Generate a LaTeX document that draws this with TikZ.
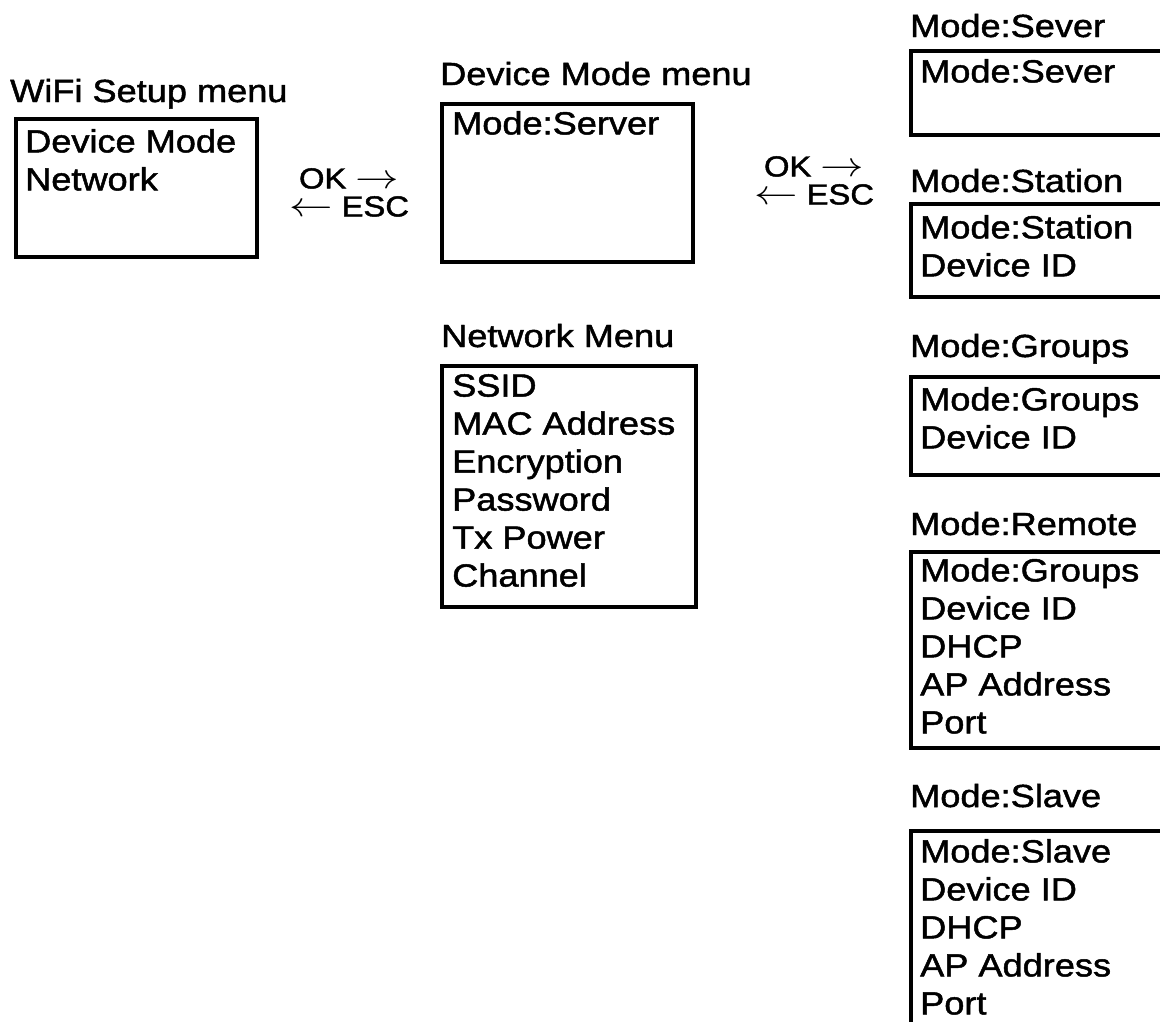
\documentclass[tikz,border=0pt]{standalone}
\usepackage{fix-cm}
\usepackage{fontspec}
\setmainfont{Liberation Sans}[FakeStretch=1.13, FakeBold=1.5]
\usetikzlibrary{positioning}
\newcommand{\menufont}{\fontsize{32}{38}\selectfont}
\newcommand{\keyfont}{\fontsize{29}{28}\selectfont}
\newcommand{\keyright}{\scalebox{1.5}[1.2]{$\rightarrow$}}
\newcommand{\keyleft}{\scalebox{1.5}[1.2]{$\leftarrow$}}
\tikzset{
  menubox/.style={draw, line width=3.5pt, anchor=north west, inner sep=0pt},
  menutitle/.style={anchor=base west, inner sep=0pt, font=\menufont},
  menuitems/.style={inner sep=0pt, align=left, font=\menufont},
  keylabel/.style={anchor=north, inner sep=0pt, align=center, font=\keyfont}
}
\begin{document}
\begin{tikzpicture}[x=1pt,y=-1pt]
\useasboundingbox (0,0) rectangle (1160,1021);
\clip (0,0) rectangle (1160,1021);
%%First the menu boxes
\node (wifi) [menubox, minimum width=241pt, minimum height=138pt] at (14,117) {};
\node (devmode) [menubox, minimum width=251pt, minimum height=158pt] at (440,102) {};
\node (network) [menubox, minimum width=254pt, minimum height=241pt] at (440,364) {};
\node (sever) [menubox, minimum width=300pt, minimum height=84pt] at (909,49) {};
\node (station) [menubox, minimum width=300pt, minimum height=93pt] at (909,202) {};
\node (groups) [menubox, minimum width=300pt, minimum height=98pt] at (909,375) {};
\node (remote) [menubox, minimum width=300pt, minimum height=196pt] at (909,550) {};
\node (slave) [menubox, minimum width=300pt, minimum height=250pt] at (909,829) {};
%%Then the titles
\node (wifi-t) [menutitle] at (10,102) {WiFi Setup menu};
\node (devmode-t) [menutitle] at (440,85) {Device Mode menu};
\node (network-t) [menutitle] at (441,347) {Network Menu};
\node (sever-t) [menutitle] at (910,37) {Mode:Sever};
\node (station-t) [menutitle] at (910,192) {Mode:Station};
\node (groups-t) [menutitle] at (910,357) {Mode:Groups};
\node (remote-t) [menutitle] at (910,535) {Mode:Remote};
\node (slave-t) [menutitle] at (910,807) {Mode:Slave};
%%The menu entries
\node (wifi-c) [menuitems, below right=12pt and 11pt of wifi.north west] {Device Mode\\Network};
\node (devmode-c) [menuitems, below right=9pt and 12pt of devmode.north west] {Mode:Server};
\node (network-c) [menuitems, below right=10pt and 12pt of network.north west]
  {SSID\\MAC Address\\Encryption\\Password\\Tx Power\\Channel};
\node (sever-c) [menuitems, below right=10pt and 11pt of sever.north west] {Mode:Sever};
\node (station-c) [menuitems, below right=13pt and 11pt of station.north west] {Mode:Station\\Device ID};
\node (groups-c) [menuitems, below right=12pt and 11pt of groups.north west] {Mode:Groups\\Device ID};
\node (remote-c) [menuitems, below right=8pt and 11pt of remote.north west]
  {Mode:Groups\\Device ID\\DHCP\\AP Address\\Port};
\node (slave-c) [menuitems, below right=10pt and 11pt of slave.north west]
  {Mode:Slave\\Device ID\\DHCP\\AP Address\\Port};
%%The key labels between the columns
\node (keys1) [keylabel] at (349,168) {OK \keyright\\\keyleft{} ESC};
\node (keys2) [keylabel] at (814,156) {OK \keyright\\\keyleft{} ESC};
\end{tikzpicture}
\end{document}
